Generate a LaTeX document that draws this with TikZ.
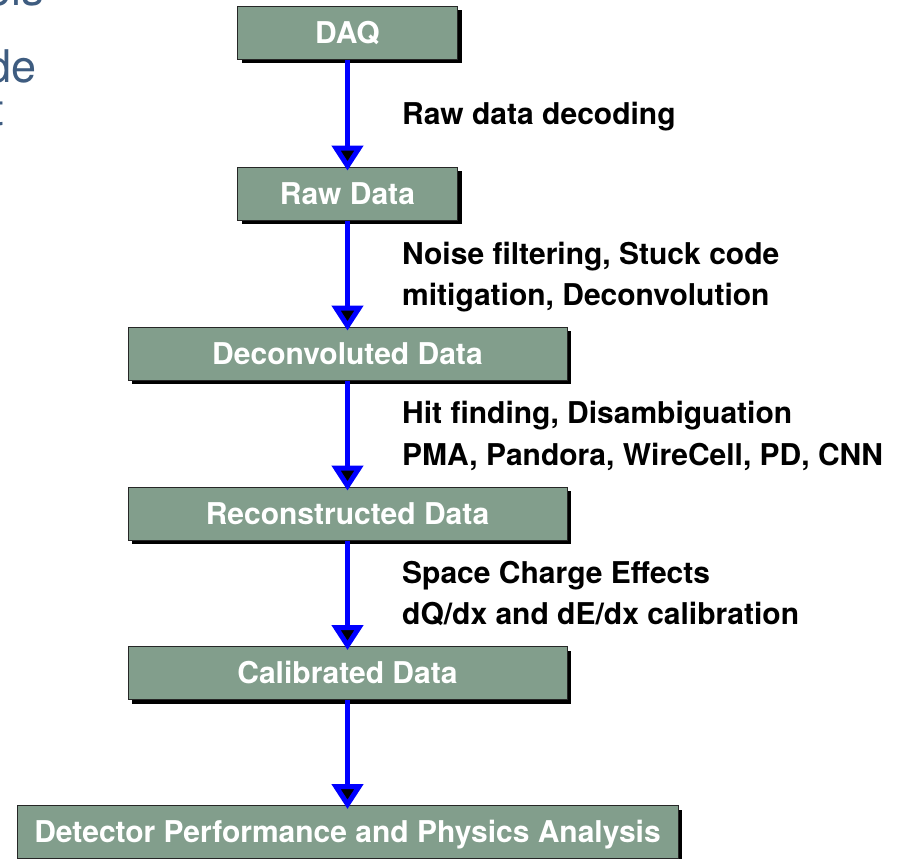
\documentclass[tikz,border=0pt]{standalone}
\usepackage{fontspec}
\setmainfont{TeX Gyre Heros}
\usetikzlibrary{arrows.meta,shadows}
\definecolor{boxfill}{RGB}{130,158,140}
\definecolor{slate}{RGB}{62,92,128}
\begin{document}
\begin{tikzpicture}[x=1pt,y=-1pt,
  stage/.style={draw=black!85, line width=1pt, fill=boxfill, text=white,
    font=\fontsize{30}{36}\selectfont\bfseries, minimum height=53pt, inner sep=0pt,
    text height=21.5pt, text depth=0pt,
    drop shadow={shadow xshift=4pt, shadow yshift=-4pt, fill=black, opacity=1}},
  lab/.style={anchor=base west, inner sep=0pt, font=\fontsize{30}{36}\selectfont\bfseries},
  flow/.style={draw=blue, line width=5pt,
    -{Triangle[width=31pt,length=25pt,fill=black,line width=5pt]}, shorten >=-4pt},
  frag/.style={anchor=base east, inner sep=0pt, text=slate, font=\fontsize{45}{54}\selectfont}
]
\useasboundingbox (0,0) rectangle (902,859);
\begin{scope}
\clip (0,0) rectangle (902,859);
\node[frag] (f1) at (44,6) {ols};
\node[frag] (f2) at (37,82) {de};
\node[frag] (f3) at (4,125) {t};

\node[stage, minimum width=220pt] (daq) at (347.5,33) {DAQ};
\node[stage, minimum width=220pt] (raw) at (347.5,193.5) {Raw Data};
\node[stage, minimum width=439pt] (dec) at (347.5,353.5) {Deconvoluted Data};
\node[stage, minimum width=439pt] (rec) at (347.5,513.5) {Reconstructed Data};
\node[stage, minimum width=439pt] (cal) at (347.5,673) {Calibrated Data};
\node[stage, minimum width=661pt] (det) at (347.5,832) {Detector Performance and Physics Analysis};

\draw[flow] (daq.south) -- (raw.north);
\draw[flow] (raw.south) -- (dec.north);
\draw[flow] (dec.south) -- (rec.north);
\draw[flow] (rec.south) -- (cal.north);
\draw[flow] (cal.south) -- (det.north);
\end{scope}

\node[lab] (l1) at (402,124) {Raw data decoding};
\node[lab] (l2a) at (402,264) {Noise filtering, Stuck code};
\node[lab] (l2b) at (402,305) {mitigation, Deconvolution};
\node[lab] (l3a) at (402,423) {Hit finding, Disambiguation};
\node[lab] (l3b) at (402,465) {PMA, Pandora, WireCell, PD, CNN};
\node[lab] (l4a) at (402,583) {Space Charge Effects};
\node[lab] (l4b) at (402,624) {dQ/dx and dE/dx calibration};
\end{tikzpicture}
\end{document}
